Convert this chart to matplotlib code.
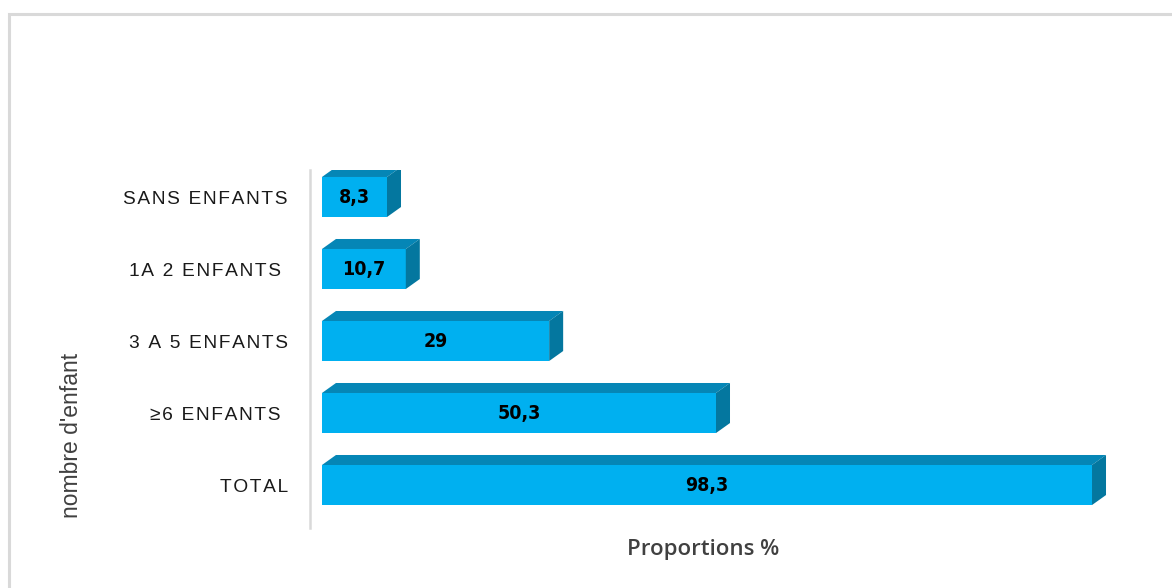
import matplotlib
matplotlib.use("Agg")
import matplotlib.pyplot as plt
from matplotlib.patches import Polygon, Rectangle

# Data (bottom to top)
categories = ["TOTAL", "\u22656 ENFANTS ", "3 A 5 ENFANTS", "1A 2 ENFANTS ", "SANS ENFANTS"]
values = [98.3, 50.3, 29, 10.7, 8.3]
value_labels = ["98,3", "50,3", "29", "10,7", "8,3"]

FRONT = "#00B0F0"
TOP = "#0586B6"
SIDE = "#04779F"

W, H = 1172, 588
fig = plt.figure(figsize=(W / 100, H / 100), dpi=100)
fig.patch.set_facecolor("white")

# light frame around the chart area
fig.patches.append(Rectangle((9 / W, -0.1), 1.2, (H - 14) / H + 0.1,
                             transform=fig.transFigure, fill=False,
                             edgecolor="#D9D9D9", linewidth=2.2, zorder=0))

ax_l, ax_r, ax_t, ax_b = 310, 1130, 170, 528
ax = fig.add_axes([ax_l / W, (H - ax_b) / H, (ax_r - ax_l) / W, (ax_b - ax_t) / H])
ax.set_facecolor("none")

xmin, xmax = -1.53, 103.15
ymin, ymax = -0.597, 4.375
ax.set_xlim(xmin, xmax)
ax.set_ylim(ymin, ymax)

bar_h = 0.556
depth_x_px, depth_y_px = 14, 10
dx = depth_x_px * (xmax - xmin) / (ax_r - ax_l)
dy = depth_y_px * (ymax - ymin) / (ax_b - ax_t)

ypos = list(range(len(categories)))
ax.barh(ypos, values, height=bar_h, color=FRONT, edgecolor="none", zorder=3)
for y, v, lab in zip(ypos, values, value_labels):
    yt, yb = y + bar_h / 2, y - bar_h / 2
    ax.add_patch(Polygon([(0, yt), (dx, yt + dy), (v + dx, yt + dy), (v, yt)],
                         closed=True, facecolor=TOP, edgecolor="none", zorder=3))
    ax.add_patch(Polygon([(v, yb), (v, yt), (v + dx, yt + dy), (v + dx, yb + dy)],
                         closed=True, facecolor=SIDE, edgecolor="none", zorder=3))
    ax.text(v / 2, y, lab, ha="center", va="center", fontsize=14,
            fontweight="bold", fontstretch="condensed",
            family=["DejaVu Sans"], color="black", zorder=4)


def spaced(s):
    return "\u200a".join(s)


ax.set_yticks(ypos)
ax.set_yticklabels([spaced(c) for c in categories],
                   family=["Liberation Sans", "DejaVu Sans"], fontsize=13.8,
                   color="#1a1a1a")
ax.tick_params(axis="y", length=0, pad=16)
ax.set_xticks([])
for s in ["top", "right", "bottom"]:
    ax.spines[s].set_visible(False)
ax.spines["left"].set_color("#D9D9D9")
ax.spines["left"].set_linewidth(1.8)

fig.text(71 / W, 1 - 435 / H, "nombre d'enfant", rotation=90, ha="center",
         va="center", fontsize=16.5, color="#404040",
         family=["Liberation Sans", "DejaVu Sans"])
fig.text(703 / W, 1 - 549 / H, "Proportions %", ha="center", va="center",
         fontsize=16, fontweight="semibold", color="#404040",
         family=["Open Sans", "DejaVu Sans"])

fig.savefig("out.png", dpi=100, facecolor="white")
